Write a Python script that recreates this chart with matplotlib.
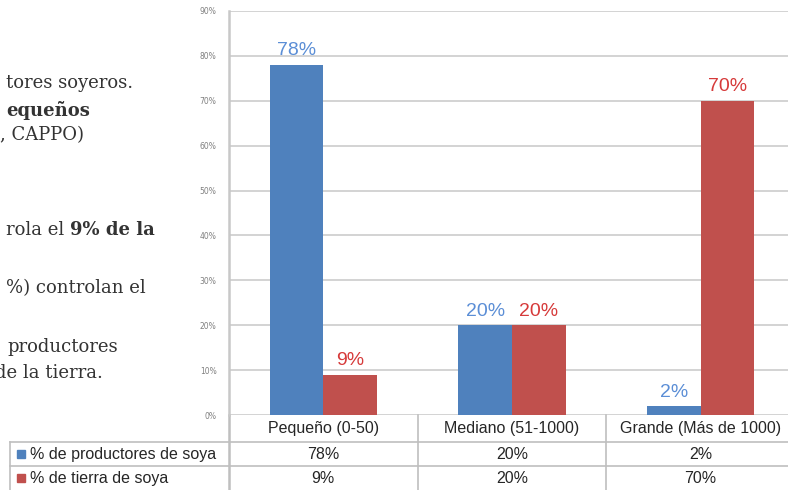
import numpy as np
import matplotlib.pyplot as plt
import matplotlib.transforms as mtransforms
from matplotlib.lines import Line2D
from matplotlib.patches import Rectangle

# data
categories = ['Pequeño (0-50)', 'Mediano (51-1000)', 'Grande (Más de 1000)']
productores = [78, 20, 2]
tierra = [9, 20, 70]
series_names = ['% de productores de soya', '% de tierra de soya']

blue = '#4F81BD'
red = '#C0504D'
blue_lbl = '#5B8ED6'
red_lbl = '#D63A3A'
grid_col = '#D0D0D0'

W, H = 788, 490
fig = plt.figure(figsize=(W / 100, H / 100), dpi=100)

# axes in pixel space (right side runs past the edge of the picture)
left_px, right_px, top_px, bottom_px = 229, 795, 11, 415
ax = fig.add_axes([left_px / W, 1 - bottom_px / H,
                   (right_px - left_px) / W, (bottom_px - top_px) / H])

x = np.arange(len(categories))
bw = 0.285
b1 = ax.bar(x - bw / 2, productores, bw, color=blue, zorder=3)
b2 = ax.bar(x + bw / 2, tierra, bw, color=red, zorder=3)

for bars, vals, c in [(b1, productores, blue_lbl), (b2, tierra, red_lbl)]:
    for rect, v in zip(bars, vals):
        ax.text(rect.get_x() + rect.get_width() / 2, v + 1.2, f'{v}%',
                ha='center', va='bottom', color=c, fontsize=14,
                family='Liberation Sans')

ax.set_xlim(-0.5, len(categories) - 0.5)
ax.set_ylim(0, 90)
ax.set_yticks(np.arange(0, 91, 10))
ax.set_yticklabels([f'{t}%' for t in range(0, 91, 10)])
ax.tick_params(axis='y', labelsize=5.5, labelcolor='#808080', length=0, pad=9)
ax.set_xticks([])
ax.yaxis.grid(True, color=grid_col, linewidth=1.3, zorder=0)
for s in ['top', 'right', 'bottom']:
    ax.spines[s].set_visible(False)
ax.spines['left'].set_color('#C8C8C8')
ax.spines['left'].set_linewidth(1.8)

# data table below the plot
blend = mtransforms.blended_transform_factory(ax.transData, ax.transAxes)
ax_w = right_px - left_px
ax_h = bottom_px - top_px
def ay(py):
    return -(py - bottom_px) / ax_h

row_cat, row_a, row_b = ay(428), ay(454), ay(478)
line_a, line_b, line_end = ay(442), ay(466), ay(492)
leg_left = (10 - left_px) / ax_w

tfont = dict(family='Liberation Sans', fontsize=11.5, color='#262626')
for i, cat in enumerate(categories):
    ax.text(i, row_cat, cat, transform=blend, ha='center', va='center',
            clip_on=False, **tfont)
    ax.text(i, row_a, f'{productores[i]}%', transform=blend, ha='center',
            va='center', clip_on=False, **tfont)
    ax.text(i, row_b, f'{tierra[i]}%', transform=blend, ha='center',
            va='center', clip_on=False, **tfont)

tcol = '#BFBFBF'
# vertical separators between categories
for xb in np.arange(0.5, len(categories) - 0.5, 1):
    ax.add_line(Line2D([xb, xb], [0, line_end], transform=blend, color=tcol,
                       lw=1.2, clip_on=False))
# continue the axis line through the table
ax.add_line(Line2D([0, 0], [0, line_end], transform=ax.transAxes, color=tcol,
                   lw=1.8, clip_on=False))
ax.add_line(Line2D([leg_left, leg_left], [line_a, line_end],
                   transform=ax.transAxes, color=tcol, lw=1.2, clip_on=False))
for yl in [line_a, line_b]:
    ax.add_line(Line2D([leg_left, 1], [yl, yl], transform=ax.transAxes,
                       color=tcol, lw=1.2, clip_on=False))

# legend keys inside the table
sq = 8
for yy, name, c in [(row_a, series_names[0], blue), (row_b, series_names[1], red)]:
    ax.add_patch(Rectangle((leg_left + 7 / ax_w, yy - sq / 2 / ax_h),
                           sq / ax_w, sq / ax_h, transform=ax.transAxes,
                           color=c, clip_on=False))
    ax.text(leg_left + 20 / ax_w, yy, name, transform=ax.transAxes,
            ha='left', va='center', clip_on=False, **tfont)

# cropped slide text on the left
sfont = dict(family='DejaVu Serif', fontsize=13, color='#333333')
def fx(px):
    return px / W
def fy(py):
    return 1 - py / H

fig.text(fx(133), fy(83), 'tores soyeros.', ha='right', va='center', **sfont)
fig.text(fx(90), fy(110), 'equeños', ha='right', va='center',
         fontweight='bold', **sfont)
fig.text(fx(84), fy(135), ', CAPPO)', ha='right', va='center', **sfont)
t_b = fig.text(fx(155), fy(230), '9% de la', ha='right', va='center',
               fontweight='bold', **sfont)
ax.annotate('rola el ', xy=(0, 0.5), xycoords=t_b, ha='right', va='center',
            annotation_clip=False, **sfont)
fig.text(fx(146), fy(288), '%) controlan el', ha='right', va='center', **sfont)
fig.text(fx(118), fy(347), 'productores', ha='right', va='center', **sfont)
fig.text(fx(103), fy(373), 'de la tierra.', ha='right', va='center', **sfont)

fig.savefig('out.png', dpi=100)
